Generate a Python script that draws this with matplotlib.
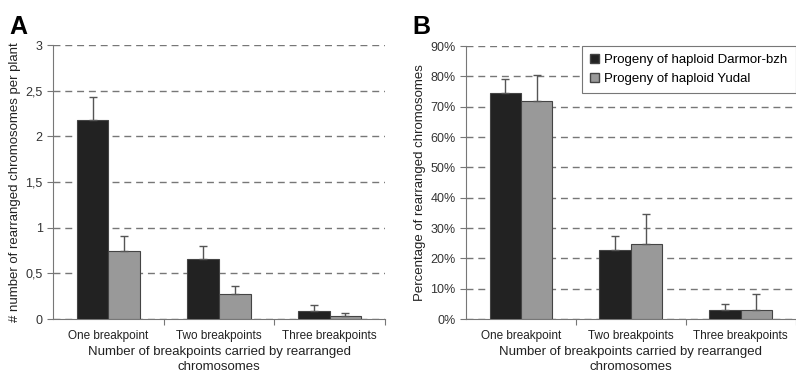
import matplotlib.pyplot as plt
import numpy as np
from matplotlib.ticker import FixedLocator, FuncFormatter

plt.rcParams['font.family'] = ['Liberation Sans', 'DejaVu Sans']

categories = ["One breakpoint", "Two breakpoints", "Three breakpoints"]
series = ["Progeny of haploid Darmor-bzh", "Progeny of haploid Yudal"]

# panel A: rearranged chromosomes per plant
count_darmor = [2.18, 0.66, 0.09]
count_darmor_err = [0.25, 0.14, 0.06]
count_yudal = [0.74, 0.27, 0.03]
count_yudal_err = [0.17, 0.09, 0.035]

# panel B: percentage of rearranged chromosomes
pct_darmor = [74.5, 22.7, 3.0]
pct_darmor_err = [4.7, 4.7, 2.0]
pct_yudal = [72.0, 24.8, 3.0]
pct_yudal_err = [8.5, 9.8, 5.3]

dark = "#222222"
grey = "#999999"
edge = "#444444"
xlabel = "Number of breakpoints carried by rearranged\nchromosomes"

fig = plt.figure(figsize=(7.96, 3.75), dpi=100)
axA = fig.add_axes([0.0666, 0.1493, 0.4171, 0.7307])
axB = fig.add_axes([0.5854, 0.1493, 0.4140, 0.7280])


def draw(ax, v1, e1, v2, e2, ymax, step, fmt, ylabel):
    x = np.arange(len(categories))
    w = 0.285
    for vals, errs, col, off in [(v1, e1, dark, -w / 2), (v2, e2, grey, w / 2)]:
        ax.bar(x + off, vals, w, color=col, edgecolor=edge, linewidth=0.8, zorder=3)
        ax.errorbar(x + off, vals, yerr=[np.zeros(len(vals)), errs], fmt="none",
                    ecolor="#555555", elinewidth=1.0, capsize=3, capthick=1.0, zorder=4)
    ax.set_xlim(-0.5, len(categories) - 0.5)
    ax.set_ylim(0, ymax)
    ticks = np.arange(0, ymax + step / 2, step)
    ax.set_yticks(ticks)
    ax.yaxis.set_major_formatter(FuncFormatter(fmt))
    ax.yaxis.grid(True, linestyle=(0, (5, 3.5)), color="#777777", linewidth=1.0)
    ax.set_axisbelow(True)
    ax.xaxis.set_major_locator(FixedLocator(np.arange(0.5, len(categories) - 0.5 + 1e-9, 1.0)))
    ax.xaxis.set_minor_locator(FixedLocator(x))
    ax.set_xticklabels([], minor=False)
    ax.set_xticklabels(categories, minor=True)
    ax.tick_params(axis="x", which="minor", length=0, labelsize=8.5, pad=8, colors="#222222")
    ax.tick_params(axis="x", which="major", length=4, color="#777777")
    ax.tick_params(axis="y", length=4, color="#777777", labelsize=9, labelcolor="#333333")
    for s in ["top", "right"]:
        ax.spines[s].set_visible(False)
    for s in ["left", "bottom"]:
        ax.spines[s].set_color("#777777")
    ax.set_xlabel(xlabel, fontsize=9.5, labelpad=3, color="#222222", linespacing=1.35)
    ax.set_ylabel(ylabel, fontsize=9.5, labelpad=3, color="#222222")


draw(axA, count_darmor, count_darmor_err, count_yudal, count_yudal_err, 3, 0.5,
     lambda v, p: ("%g" % v).replace(".", ","), "# number of rearranged chromosomes per plant")
draw(axB, pct_darmor, pct_darmor_err, pct_yudal, pct_yudal_err, 90, 10,
     lambda v, p: "%d%%" % v, "Percentage of rearranged chromosomes")

h1 = plt.Rectangle((0, 0), 1, 1, facecolor=dark, edgecolor=edge)
h2 = plt.Rectangle((0, 0), 1, 1, facecolor=grey, edgecolor=edge)
leg = axB.legend([h1, h2], series, loc="upper right", bbox_to_anchor=(1.0, 1.0),
                 borderaxespad=0, fancybox=False, fontsize=9.5, handlelength=0.7,
                 handleheight=0.7, handletextpad=0.4, labelspacing=0.5, framealpha=1,
                 borderpad=0.6)
leg.get_frame().set_edgecolor("#777777")
leg.get_frame().set_linewidth(0.8)

fig.text(0.012, 0.91, "A", fontsize=18, fontweight="bold")
fig.text(0.518, 0.91, "B", fontsize=18, fontweight="bold")

fig.savefig("out.png", dpi=100)
